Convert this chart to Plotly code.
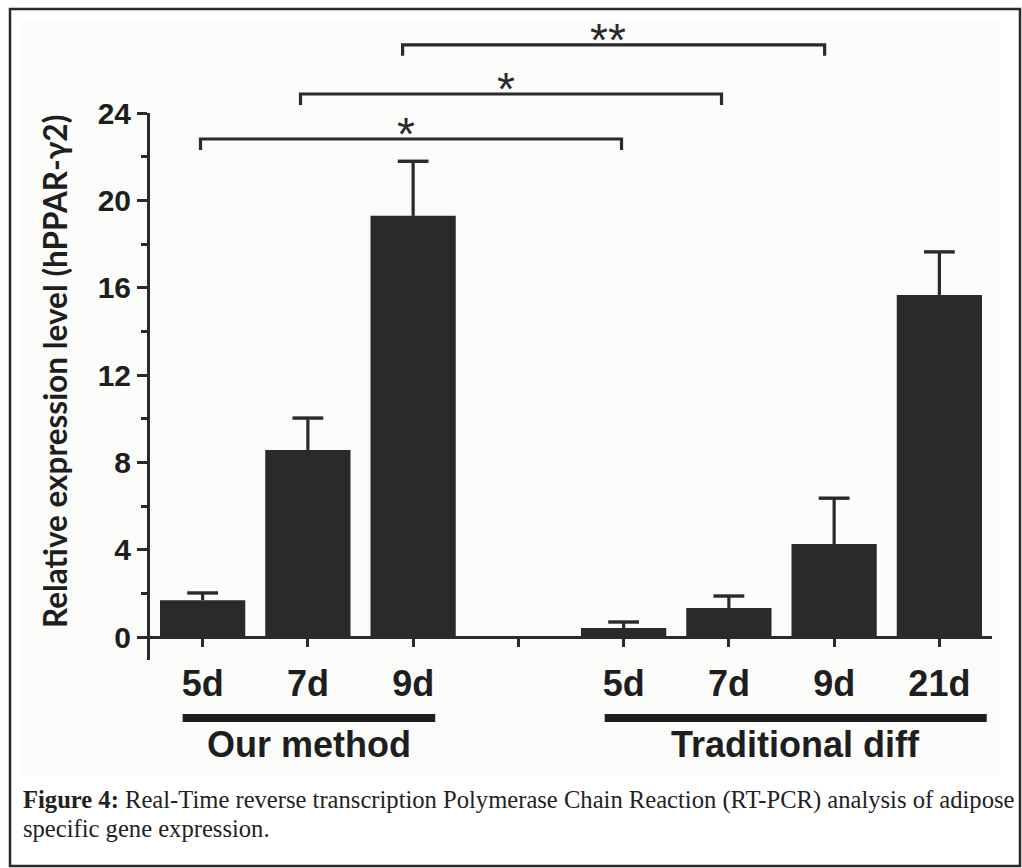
import plotly.graph_objects as go

# ---------------- data ----------------
categories = ["5d", "7d", "9d", "", "5d", "7d", "9d", "21d"]
values = [1.69, 8.57, 19.29, 0.0, 0.41, 1.33, 4.26, 15.67]
errors = [0.33, 1.46, 2.50, 0.0, 0.28, 0.55, 2.10, 1.97]
y_ticks = [0, 4, 8, 12, 16, 20, 24]
y_minor = [2, 6, 10, 14, 18, 22]
groups = ["Our method", "Traditional diff"]
y_title = "Relative expression level (hPPAR-γ2)"
# significance brackets: (left x, right x, level, label)
brackets = [(-0.02, 3.98, 22.81, "*"), (0.93, 4.93, 24.87, "*"), (1.90, 5.91, 27.12, "**")]

W, H = 1022, 868
L, R, T, B = 150, 992, 113, 660
YMIN, YMAX = -1.05, 24
DARK = "#2b2a2b"


def px(x):
    return (x - L) / (R - L)


def py(y):
    return (B - y) / (B - T)


def dv(v):
    return (v - YMIN) / (YMAX - YMIN)


xs = list(range(len(categories)))

fig = go.Figure()
fig.add_trace(go.Bar(
    x=xs, y=values, width=0.81,
    marker=dict(color=DARK, line=dict(width=0)),
    error_y=dict(type="data", array=errors, arrayminus=[0] * len(errors), symmetric=False,
                 color=DARK, thickness=3.2, width=0),
    showlegend=False, hoverinfo="skip",
))
# error bar caps
cap_y = [v + e if e > 0 else None for v, e in zip(values, errors)]
fig.add_trace(go.Scatter(
    x=xs, y=cap_y, mode="markers",
    marker=dict(symbol="line-ew", size=22, line=dict(color=DARK, width=3.4)),
    showlegend=False, hoverinfo="skip", cliponaxis=False,
))

shapes = []
# panel background + outer frame
shapes.append(dict(type="rect", xref="paper", yref="paper", x0=px(20), x1=px(1000), y0=py(775), y1=py(22),
                   fillcolor="#fbfbf9", line=dict(width=0), layer="below"))
shapes.append(dict(type="rect", xref="paper", yref="paper", x0=px(10), x1=px(1020), y0=py(866), y1=py(9),
                   fillcolor="rgba(0,0,0,0)", line=dict(color="#2a2a2a", width=2.5), layer="above"))

annotations = []
drop = 0.5
for x0, x1, lev, lab in brackets:
    shapes.append(dict(type="path", xref="x", yref="paper",
                       path=f"M {x0},{dv(lev - drop)} L {x0},{dv(lev)} L {x1},{dv(lev)} L {x1},{dv(lev - drop)}",
                       line=dict(color=DARK, width=3.2)))
    annotations.append(dict(x=(x0 + x1) / 2 - 0.05, y=dv(lev), xref="x", yref="paper", text=lab,
                            showarrow=False, yanchor="bottom", yshift=-23,
                            font=dict(family="Liberation Sans, Arial", size=46, color=DARK)))

# group underlines and labels
group_spans = [(-0.19, 2.21), (3.82, 7.45)]
for (g0, g1), name in zip(group_spans, groups):
    shapes.append(dict(type="line", xref="x", yref="paper", x0=g0, x1=g1, y0=py(718), y1=py(718),
                       line=dict(color="#1e1e1e", width=8)))
    annotations.append(dict(x=(g0 + g1) / 2, y=py(744), xref="x", yref="paper", text=f"<b>{name}</b>",
                            showarrow=False, yanchor="middle",
                            font=dict(family="Liberation Sans, Arial", size=36, color="#1e1e1e")))

# y-axis title (as annotation for exact placement)
annotations.append(dict(x=px(55), y=py(372), xref="paper", yref="paper", textangle=-90,
                        xanchor="center", yanchor="middle", showarrow=False, text=f"<b>{y_title}</b>",
                        font=dict(family="Lato, Open Sans", size=31.5, color="#1e1e1e")))

# caption
cap_font = dict(family="Liberation Serif, Times New Roman", size=24.6, color="#222")
annotations.append(dict(x=px(21), y=py(800), xref="paper", yref="paper", xanchor="left", yanchor="middle",
                        showarrow=False,
                        text="<b>Figure 4:</b> Real-Time reverse transcription Polymerase Chain Reaction (RT-PCR) analysis of adipose",
                        font=cap_font))
annotations.append(dict(x=px(21), y=py(828), xref="paper", yref="paper", xanchor="left", yanchor="middle",
                        showarrow=False, text="specific gene expression.", font=cap_font))

fig.update_layout(
    width=W, height=H,
    margin=dict(l=L, r=W - R, t=T, b=H - B, autoexpand=False),
    paper_bgcolor="white", plot_bgcolor="rgba(0,0,0,0)",
    shapes=shapes, annotations=annotations,
    bargap=0.19,
    xaxis=dict(range=[-0.5, 7.5], tickmode="array", tickvals=xs, ticktext=categories,
               anchor="free", position=dv(0), showline=True, linecolor=DARK, linewidth=3,
               ticks="outside", ticklen=8, tickwidth=3, tickcolor=DARK, showgrid=False, zeroline=False,
               ticklabelstandoff=6,
               tickfont=dict(family="Liberation Sans, Arial", size=36, color="#1e1e1e", weight="bold")),
    yaxis=dict(range=[YMIN, YMAX], tickmode="array", tickvals=y_ticks, showline=True, linecolor=DARK,
               linewidth=3, ticks="outside", ticklen=10, tickwidth=3, tickcolor=DARK,
               showgrid=False, zeroline=False,
               minor=dict(tickmode="array", tickvals=y_minor, ticks="outside", ticklen=6, tickwidth=3,
                          tickcolor=DARK, showgrid=False),
               tickfont=dict(family="Liberation Sans, Arial", size=30, color="#1e1e1e", weight="bold")),
)

fig.write_html("out.html", post_script="document.body.style.margin='0';",
               config={"displayModeBar": False})
